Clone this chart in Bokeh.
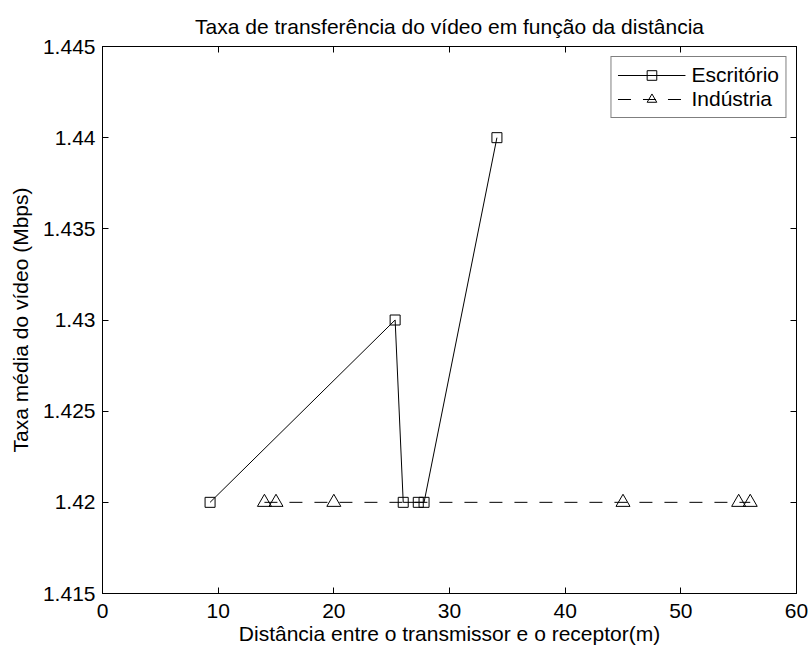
from bokeh.plotting import figure
from bokeh.models import LinearAxis, Range1d, FixedTicker, Legend, LegendItem
from bokeh.embed import file_html
from bokeh.resources import INLINE

# Data
esc_x = [9.3, 25.3, 26.0, 27.3, 27.8, 34.1]
esc_y = [1.42, 1.43, 1.42, 1.42, 1.42, 1.44]
ind_x = [14.0, 15.0, 20.0, 45.0, 55.0, 56.0]
ind_y = [1.42, 1.42, 1.42, 1.42, 1.42, 1.42]
x_ticks = [0, 10, 20, 30, 40, 50, 60]
y_ticks = [1.415, 1.42, 1.425, 1.43, 1.435, 1.44, 1.445]
x_label = "Distância entre o transmissor e o receptor(m)"
y_label = "Taxa média do vídeo (Mbps)"
title = "Taxa de transferência do vídeo em função da distância"

FONT = "Liberation Sans"
FS = "21px"

xr = Range1d(x_ticks[0], x_ticks[-1])
yr = Range1d(y_ticks[0], y_ticks[-1])

p = figure(width=811, height=648, output_backend="svg", toolbar_location=None,
           x_range=xr, y_range=yr, title=title,
           min_border_left=102, min_border_right=15, min_border_top=46, min_border_bottom=55)

p.title.align = "center"
p.title.text_font = FONT
p.title.text_font_size = FS
p.title.text_font_style = "normal"
p.title.text_color = "black"
p.title.standoff = 18

p.xgrid.visible = False
p.ygrid.visible = False
p.outline_line_color = "black"
p.outline_line_width = 1
p.background_fill_color = "white"

def style_axis(ax, labels=True):
    ax.axis_line_color = "black"
    ax.major_tick_in = 6
    ax.major_tick_out = 0
    ax.minor_tick_in = 0
    ax.minor_tick_out = 0
    ax.major_tick_line_color = "black"
    ax.major_label_text_font = FONT
    ax.major_label_text_font_size = FS
    ax.major_label_text_color = "black"
    ax.axis_label_text_font = FONT
    ax.axis_label_text_font_size = FS
    ax.axis_label_text_font_style = "normal"
    ax.axis_label_text_color = "black"
    if not labels:
        ax.major_label_text_font_size = "0px"
        ax.major_label_text_color = None
        ax.major_label_standoff = 0
        ax.axis_label_standoff = 0

p.xaxis.ticker = FixedTicker(ticks=x_ticks)
p.yaxis.ticker = FixedTicker(ticks=y_ticks)
p.yaxis.major_label_overrides = {v: f"{v:g}" for v in y_ticks}
p.xaxis.axis_label = x_label
p.yaxis.axis_label = y_label
style_axis(p.xaxis[0])
style_axis(p.yaxis[0])
p.xaxis.major_label_standoff = 10
p.xaxis.axis_label_standoff = 1
p.yaxis.major_label_standoff = 7
p.yaxis.axis_label_standoff = 8

top = LinearAxis(ticker=FixedTicker(ticks=x_ticks))
style_axis(top, labels=False)
p.add_layout(top, "above")
right = LinearAxis(ticker=FixedTicker(ticks=y_ticks))
style_axis(right, labels=False)
p.add_layout(right, "right")

l1 = p.line(esc_x, esc_y, line_color="black", line_width=1)
s1 = p.scatter(esc_x, esc_y, marker="square", size=10, fill_color=None,
               line_color="black", line_width=1)
l2 = p.line(ind_x, ind_y, line_color="black", line_width=1, line_dash="13 12")
s2 = p.scatter(ind_x, ind_y, marker="triangle", size=14, fill_color=None,
               line_color="black", line_width=1)

legend = Legend(items=[LegendItem(label="Escritório", renderers=[l1, s1]),
                       LegendItem(label="Indústria", renderers=[l2, s2])],
                location="top_right")
legend.label_text_font = FONT
legend.label_text_font_size = FS
legend.label_text_color = "black"
legend.border_line_color = "black"
legend.border_line_width = 1
legend.glyph_width = 68
legend.glyph_height = 24
legend.label_height = 24
legend.spacing = 0
legend.padding = 6
legend.margin = 10
legend.label_standoff = 6
p.add_layout(legend)

open("out.html", "w").write(file_html(p, INLINE))
